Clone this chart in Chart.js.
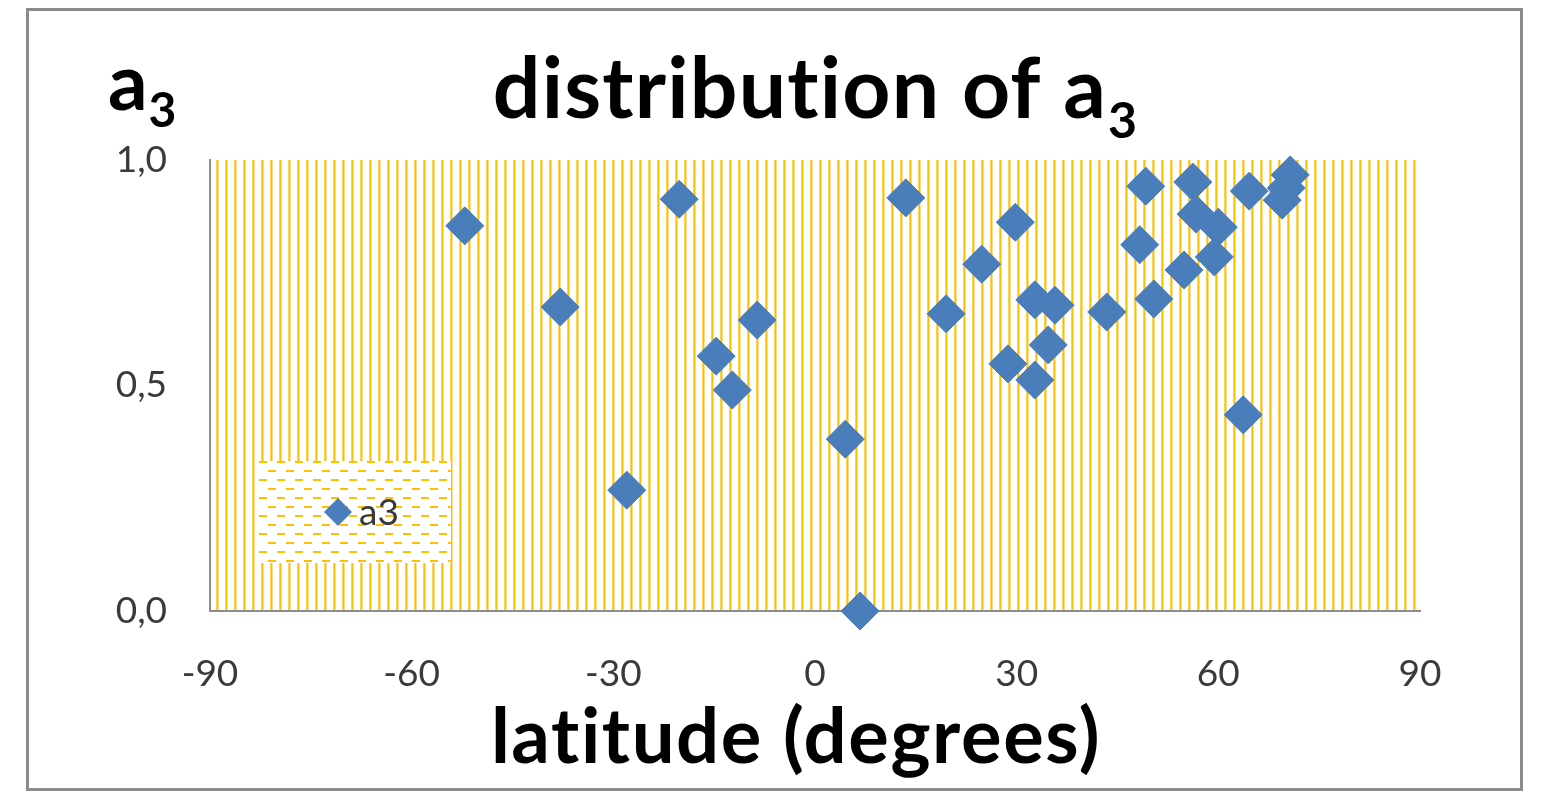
<!DOCTYPE html>
<html>
<head>
<meta charset="utf-8">
<title>distribution of a3</title>
<script src="https://cdn.jsdelivr.net/npm/chart.js@4.4.1/dist/chart.umd.min.js"></script>
<style>
    html, body { margin: 0; padding: 0; background: #fff; }
    canvas { display: block; }
</style>
</head>
<body>
<canvas id="a3Chart" width="1544" height="793"></canvas>
<script>
// latitude of each station (degrees)
const latitudes = [
    -52.1, -37.9, -28.0, -20.2, -14.7, -12.3, -8.6, 4.5, 6.7, 13.5,
    19.5, 24.8, 28.7, 29.8, 32.7, 32.7, 34.7, 35.7, 43.4, 48.3,
    49.2, 50.4, 54.9, 56.2, 56.7, 60.0, 59.4, 64.6, 63.7, 70.7,
    70.1, 69.5
];
// a3 value at each station
const a3Values = [
    0.854, 0.674, 0.268, 0.913, 0.565, 0.490, 0.645, 0.381, 0.0, 0.916,
    0.659, 0.769, 0.548, 0.862, 0.690, 0.512, 0.590, 0.678, 0.663, 0.812,
    0.942, 0.692, 0.756, 0.951, 0.880, 0.851, 0.785, 0.931, 0.435, 0.967,
    0.938, 0.911
];
const xTicks = [-90, -60, -30, 0, 30, 60, 90];
const yTicks = [0, 0.5, 1];
const seriesLabel = 'a3';

const markerColor = '#4A7EBB';
const tickColor = '#3a3a3a';

// vertical yellow stripes for the plot area
function stripePattern(ctx) {
    const c = document.createElement('canvas');
    c.width = 9;
    c.height = 4;
    const p = c.getContext('2d');
    p.fillStyle = '#fff';
    p.fillRect(0, 0, 9, 4);
    p.fillStyle = '#FFD24D';
    p.fillRect(0, 0, 1, 4);
    p.fillStyle = '#FFC000';
    p.fillRect(1, 0, 1, 4);
    p.fillStyle = '#FFE08A';
    p.fillRect(2, 0, 1, 4);
    return ctx.createPattern(c, 'repeat');
}

// dashed horizontal lines for the legend box
function dashPattern(ctx) {
    const c = document.createElement('canvas');
    c.width = 18;
    c.height = 18;
    const p = c.getContext('2d');
    p.fillStyle = '#fff';
    p.fillRect(0, 0, 18, 18);
    p.fillStyle = '#FFC000';
    p.fillRect(0, 0, 8, 2);
    p.fillRect(9, 9, 8, 2);
    return ctx.createPattern(c, 'repeat');
}

function diamond(ctx, x, y, r) {
    ctx.beginPath();
    ctx.moveTo(x, y - r);
    ctx.lineTo(x + r, y);
    ctx.lineTo(x, y + r);
    ctx.lineTo(x - r, y);
    ctx.closePath();
    ctx.fill();
}

// text with a subscript part, left aligned at x
function subText(ctx, main, sub, mainFont, subFont, x, baseline, subBaseline) {
    ctx.font = mainFont;
    ctx.fillText(main, x, baseline);
    const w = ctx.measureText(main).width;
    ctx.font = subFont;
    ctx.fillText(sub, x + w + 1, subBaseline);
}

const decor = {
    id: 'decor',
    beforeDraw(chart) {
        const {ctx, chartArea: a} = chart;
        ctx.save();
        // outer frame
        ctx.strokeStyle = '#8c8c8c';
        ctx.lineWidth = 3;
        ctx.strokeRect(27.5, 9.5, 1494, 780);
        // striped plot area
        ctx.fillStyle = stripePattern(ctx);
        ctx.fillRect(a.left, a.top, a.right - a.left, a.bottom - a.top);
        ctx.restore();
    },
    beforeDatasetsDraw(chart) {
        const {ctx, chartArea: a} = chart;
        const bx = a.left + 49, by = a.bottom - 150, bw = 192, bh = 102;
        ctx.save();
        ctx.translate(bx, by);
        ctx.fillStyle = dashPattern(ctx);
        ctx.fillRect(0, 0, bw, bh);
        ctx.restore();

        ctx.save();
        ctx.fillStyle = markerColor;
        diamond(ctx, bx + 79, by + 51, 14);
        ctx.fillStyle = tickColor;
        ctx.font = '37px Lato';
        ctx.textBaseline = 'middle';
        ctx.fillText(chart.data.datasets[0].label, bx + 100, by + 52);
        ctx.restore();
    },
    afterDraw(chart) {
        const {ctx, chartArea: a} = chart;
        ctx.save();
        ctx.fillStyle = '#000';
        ctx.textBaseline = 'alphabetic';
        ctx.textAlign = 'left';

        // chart title with subscript, centred over the plot
        // (letter spacing also stops Lato from joining "ti")
        ctx.letterSpacing = '1.2px';
        const tMain = 'distribution of a', tSub = '3';
        const tFont = 'bold 84px Lato', sFont = 'bold 50px Lato';
        ctx.font = tFont;
        const w1 = ctx.measureText(tMain).width;
        ctx.font = sFont;
        const w2 = ctx.measureText(tSub).width;
        const cx = (a.left + a.right) / 2;
        subText(ctx, tMain, tSub, tFont, sFont, cx - (w1 + w2) / 2, 118, 138);

        // y axis title
        ctx.letterSpacing = '0px';
        subText(ctx, 'a', '3', 'bold 78px Lato', 'bold 48px Lato', 108, 110, 127);

        // x axis title
        ctx.letterSpacing = '1.6px';
        ctx.font = 'bold 76px Lato';
        ctx.textAlign = 'center';
        ctx.fillText('latitude (degrees)', 796, 763);
        ctx.restore();
    }
};

const ctx = document.getElementById('a3Chart').getContext('2d');
new Chart(ctx, {
    type: 'scatter',
    data: {
        datasets: [{
            label: seriesLabel,
            data: latitudes.map((lat, i) => ({x: lat, y: a3Values[i]})),
            pointStyle: 'rectRot',
            pointRadius: 19,
            pointBorderWidth: 1,
            backgroundColor: markerColor,
            borderColor: markerColor,
            clip: false
        }]
    },
    options: {
        responsive: false,
        animation: false,
        events: [],
        layout: {
            padding: {top: 160, right: 124, left: 0, bottom: 0}
        },
        plugins: {
            legend: {display: false},
            title: {display: false},
            tooltip: {enabled: false}
        },
        scales: {
            x: {
                type: 'linear',
                min: -90,
                max: 90,
                afterBuildTicks: axis => { axis.ticks = xTicks.map(v => ({value: v})); },
                afterFit: axis => { axis.height = 182; },
                grid: {display: false, drawTicks: false},
                border: {display: true, color: '#8c8c8c', width: 2},
                ticks: {
                    color: tickColor,
                    padding: 41,
                    maxRotation: 0,
                    font: {family: 'Lato', size: 37}
                }
            },
            y: {
                type: 'linear',
                min: 0,
                max: 1,
                afterBuildTicks: axis => { axis.ticks = yTicks.map(v => ({value: v})); },
                afterFit: axis => { axis.width = 210; },
                grid: {display: false, drawTicks: false},
                border: {display: true, color: '#8c8c8c', width: 2},
                ticks: {
                    color: tickColor,
                    padding: 43,
                    font: {family: 'Lato', size: 37},
                    callback: v => v.toFixed(1).replace('.', ',')
                }
            }
        }
    },
    plugins: [decor]
});
</script>
</body>
</html>
